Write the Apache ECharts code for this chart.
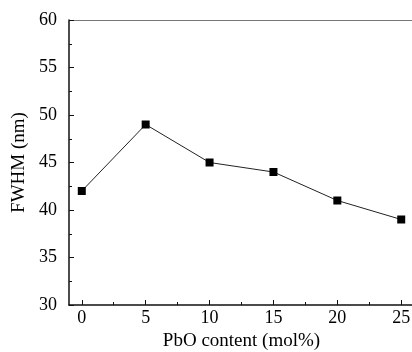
<!DOCTYPE html>
<html>
<head>
<meta charset="utf-8">
<script src="https://cdn.jsdelivr.net/npm/echarts@6/dist/echarts.min.js"></script>
<style>
  html, body { margin: 0; padding: 0; background: #fff; }
  #chart { width: 412px; height: 352px; }
</style>
</head>
<body>
<div id="chart"></div>
<script>
// PbO content (mol%)
const pbo = [0, 5, 10, 15, 20, 25];
// FWHM (nm)
const fwhm = [42, 49, 45, 44, 41, 39];
// x tick marks
const xMajor = [0, 5, 10, 15, 20, 25];
const xMinor = [2.5, 7.5, 12.5, 17.5, 22.5];

const font = 'Liberation Serif';
const chart = echarts.init(document.getElementById('chart'));

chart.setOption({
  animation: false,
  textStyle: { fontFamily: font, color: '#000' },
  grid: { left: 69, top: 20, width: 345, bottom: 47, outerBoundsMode: 'none', containLabel: false },
  xAxis: [
    {
      type: 'value',
      min: -1,
      max: 26,
      name: 'PbO content (mol%)',
      nameLocation: 'middle',
      nameGap: 26,
      nameTextStyle: { fontFamily: font, fontSize: 19, color: '#000' },
      axisLine: { onZero: false, lineStyle: { color: '#111', width: 1.5 } },
      axisTick: { inside: true, length: 5, customValues: xMajor, lineStyle: { color: '#111' } },
      axisLabel: { fontFamily: font, fontSize: 18, color: '#000', margin: 4, customValues: xMajor },
      splitLine: { show: false }
    },
    {
      type: 'value',
      position: 'top',
      min: -1,
      max: 26,
      axisLine: { show: true, onZero: false, lineStyle: { color: '#777', width: 1 } },
      axisTick: { show: false },
      axisLabel: { show: false },
      splitLine: { show: false }
    },
    {
      type: 'value',
      position: 'bottom',
      offset: 0,
      min: -1,
      max: 26,
      axisLine: { show: false, onZero: false },
      axisTick: { show: true, inside: true, length: 3, customValues: xMinor, lineStyle: { color: '#111' } },
      axisLabel: { show: false },
      splitLine: { show: false }
    }
  ],
  yAxis: {
    type: 'value',
    min: 30,
    max: 60,
    interval: 5,
    name: 'FWHM (nm)',
    nameLocation: 'middle',
    nameGap: 39,
    nameTextStyle: { fontFamily: font, fontSize: 19, color: '#000' },
    axisLine: { show: true, onZero: false, lineStyle: { color: '#111', width: 1.5 } },
    axisTick: { show: true, inside: true, length: 5, lineStyle: { color: '#111' } },
    minorTick: { show: true, splitNumber: 2, length: 3, lineStyle: { color: '#111' } },
    axisLabel: { fontFamily: font, fontSize: 18, color: '#000', margin: 12 },
    splitLine: { show: false }
  },
  series: [
    {
      type: 'line',
      data: pbo.map((x, i) => [x, fwhm[i]]),
      symbol: 'rect',
      symbolSize: 8,
      itemStyle: { color: '#000' },
      lineStyle: { color: '#222', width: 1 }
    }
  ]
});
</script>
</body>
</html>
